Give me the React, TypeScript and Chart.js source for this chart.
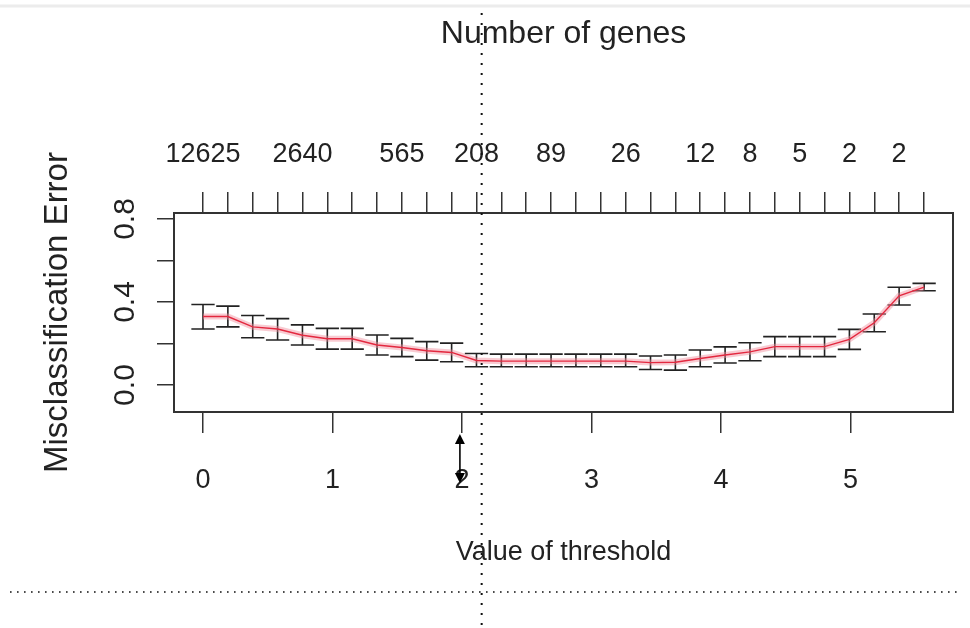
import React, { useEffect, useRef } from 'react';
import { Chart, registerables } from 'chart.js';

Chart.register(...registerables);

// Threshold values (x positions of the CV points)
const thresholds = [
  0.0, 0.192, 0.384, 0.576, 0.768, 0.96, 1.152, 1.344, 1.536, 1.728,
  1.92, 2.112, 2.304, 2.496, 2.688, 2.88, 3.072, 3.264, 3.456, 3.648,
  3.84, 4.032, 4.224, 4.416, 4.608, 4.8, 4.992, 5.184, 5.376, 5.569,
];

// Number of genes shown on the top axis ('' = label hidden)
const geneLabels = [
  '12625', '', '', '', '2640', '', '', '', '565', '', '', '208', '', '', '89',
  '', '', '26', '', '', '12', '', '8', '', '5', '', '2', '', '2', '',
];

// Misclassification error: mean, upper and lower
const meanErr = [
  0.33, 0.33, 0.28, 0.27, 0.24, 0.223, 0.223, 0.193, 0.181, 0.165,
  0.157, 0.118, 0.115, 0.115, 0.115, 0.115, 0.115, 0.115, 0.108, 0.11,
  0.128, 0.145, 0.16, 0.185, 0.185, 0.185, 0.22, 0.3, 0.43, 0.472,
];
const upperErr = [
  0.388, 0.38, 0.335, 0.32, 0.29, 0.273, 0.273, 0.241, 0.225, 0.209,
  0.202, 0.152, 0.149, 0.149, 0.149, 0.149, 0.149, 0.149, 0.14, 0.145,
  0.169, 0.184, 0.204, 0.233, 0.233, 0.233, 0.268, 0.342, 0.471, 0.49,
];
const lowerErr = [
  0.27, 0.28, 0.228, 0.217, 0.193, 0.173, 0.173, 0.145, 0.137, 0.12,
  0.112, 0.088, 0.088, 0.088, 0.088, 0.088, 0.088, 0.088, 0.075, 0.072,
  0.088, 0.106, 0.117, 0.137, 0.137, 0.137, 0.172, 0.257, 0.386, 0.454,
];

const xTicks = [0, 1, 2, 3, 4, 5];
const xTickLabels = ['0', '1', '2', '3', '4', '5'];
const yTicks = [0, 0.2, 0.4, 0.6, 0.8];
const yTickLabels = ['0.0', '', '0.4', '', '0.8'];

const arrowThreshold = 1.984;
const dottedThreshold = 2.152;

const SANS = '"Liberation Sans", Arial, sans-serif';
const INK = '#222';

const overlayPlugin = {
  id: 'overlay',
  beforeDatasetsDraw(chart: any) {
    const { ctx } = chart;
    const xs = chart.scales.x;
    const ys = chart.scales.y;
    const capHalf = 0.09;
    ctx.save();
    ctx.strokeStyle = INK;
    ctx.lineWidth = 1.6;
    for (let i = 0; i < thresholds.length; i++) {
      const x = xs.getPixelForValue(thresholds[i]);
      const xl = xs.getPixelForValue(thresholds[i] - capHalf);
      const xr = xs.getPixelForValue(thresholds[i] + capHalf);
      const yu = ys.getPixelForValue(upperErr[i]);
      const yl = ys.getPixelForValue(lowerErr[i]);
      ctx.beginPath();
      ctx.moveTo(x, yu);
      ctx.lineTo(x, yl);
      ctx.moveTo(xl, yu);
      ctx.lineTo(xr, yu);
      ctx.moveTo(xl, yl);
      ctx.lineTo(xr, yl);
      ctx.stroke();
    }
    ctx.restore();
  },
  afterDraw(chart: any) {
    const { ctx, chartArea: a, width, height } = chart;
    const xs = chart.scales.x;
    ctx.save();
    // plot box
    ctx.strokeStyle = '#333';
    ctx.lineWidth = 2;
    ctx.strokeRect(a.left, a.top, a.right - a.left, a.bottom - a.top);

    // faint line at very top
    ctx.strokeStyle = '#ececec';
    ctx.lineWidth = 3;
    ctx.beginPath();
    ctx.moveTo(0, 6);
    ctx.lineTo(width, 6);
    ctx.stroke();

    // double-headed arrow
    const ax = xs.getPixelForValue(arrowThreshold);
    const ay1 = a.bottom + 22;
    const ay2 = a.bottom + 71;
    ctx.strokeStyle = '#000';
    ctx.fillStyle = '#000';
    ctx.lineWidth = 1.6;
    ctx.beginPath();
    ctx.moveTo(ax, ay1 + 6);
    ctx.lineTo(ax, ay2 - 6);
    ctx.stroke();
    ctx.beginPath();
    ctx.moveTo(ax, ay1);
    ctx.lineTo(ax - 5, ay1 + 10);
    ctx.lineTo(ax + 5, ay1 + 10);
    ctx.closePath();
    ctx.fill();
    ctx.beginPath();
    ctx.moveTo(ax, ay2);
    ctx.lineTo(ax - 5, ay2 - 10);
    ctx.lineTo(ax + 5, ay2 - 10);
    ctx.closePath();
    ctx.fill();

    // dotted guide lines
    ctx.strokeStyle = '#111';
    ctx.lineWidth = 2;
    ctx.setLineDash([2, 8]);
    const dx = xs.getPixelForValue(dottedThreshold);
    ctx.beginPath();
    ctx.moveTo(dx, 13);
    ctx.lineTo(dx, height);
    ctx.stroke();
    ctx.lineWidth = 1.6;
    ctx.setLineDash([1.6, 5.4]);
    ctx.beginPath();
    ctx.moveTo(10, 592);
    ctx.lineTo(width - 8, 592);
    ctx.stroke();
    ctx.restore();
  },
};

export default function App() {
  const canvasRef = useRef<HTMLCanvasElement | null>(null);

  useEffect(() => {
    document.body.style.margin = '0';
    const canvas = canvasRef.current;
    if (!canvas) return;
    const pts = thresholds.map((t, i) => ({ x: t, y: meanErr[i] }));
    const chart = new Chart(canvas, {
      type: 'line',
      data: {
        datasets: [
          {
            data: pts,
            borderColor: '#e3283f',
            borderWidth: 1.4,
            pointRadius: 0,
            tension: 0,
            xAxisID: 'x',
            yAxisID: 'y',
          },
          {
            data: pts,
            borderColor: 'rgba(240,140,155,0.45)',
            borderWidth: 6,
            pointRadius: 0,
            tension: 0,
            xAxisID: 'x',
            yAxisID: 'y',
          },
        ],
      },
      options: {
        animation: false,
        responsive: false,
        devicePixelRatio: 1,
        layout: { padding: { left: 0, right: 17, top: 0, bottom: 0 } },
        plugins: {
          legend: { display: false },
          tooltip: { enabled: false },
        },
        scales: {
          x: {
            type: 'linear',
            position: 'bottom',
            min: -0.224,
            max: 5.792,
            afterBuildTicks: (s: any) => {
              s.ticks = xTicks.map((v) => ({ value: v }));
            },
            afterFit: (s: any) => {
              s.height = 216;
            },
            ticks: {
              autoSkip: false,
              maxRotation: 0,
              minRotation: 0,
              padding: 31,
              color: INK,
              font: { family: SANS, size: 27 },
              callback: (v: any) => {
                const i = xTicks.indexOf(Number(v));
                return i >= 0 ? xTickLabels[i] : '';
              },
            },
            grid: {
              drawOnChartArea: false,
              drawTicks: true,
              tickLength: 21,
              color: '#333',
              lineWidth: 1.5,
            },
            border: { display: false },
            title: {
              display: true,
              text: 'Value of threshold',
              color: INK,
              font: { family: SANS, size: 27 },
              padding: { top: 0, bottom: 59 },
            },
          },
          x2: {
            type: 'linear',
            axis: 'x',
            position: 'top',
            min: -0.224,
            max: 5.792,
            afterBuildTicks: (s: any) => {
              s.ticks = thresholds.map((v) => ({ value: v }));
            },
            afterFit: (s: any) => {
              s.height = 213;
            },
            ticks: {
              autoSkip: false,
              maxRotation: 0,
              minRotation: 0,
              padding: 21,
              color: INK,
              font: { family: SANS, size: 27 },
              callback: (v: any, i: number) => geneLabels[i] ?? '',
            },
            grid: {
              drawOnChartArea: false,
              drawTicks: true,
              tickLength: 21,
              color: '#333',
              lineWidth: 1.5,
            },
            border: { display: false },
            title: {
              display: true,
              text: 'Number of genes',
              color: INK,
              font: { family: SANS, size: 32 },
              padding: { top: 15, bottom: 0 },
            },
          },
          y: {
            type: 'linear',
            position: 'left',
            min: -0.13,
            max: 0.829,
            afterBuildTicks: (s: any) => {
              s.ticks = yTicks.map((v) => ({ value: v }));
            },
            afterFit: (s: any) => {
              s.width = 174;
            },
            ticks: {
              autoSkip: false,
              minRotation: 90,
              maxRotation: 90,
              crossAlign: 'center',
              padding: 10,
              color: INK,
              font: { family: SANS, size: 30 },
              callback: (v: any, i: number) => yTickLabels[i] ?? '',
            },
            grid: {
              drawOnChartArea: false,
              drawTicks: true,
              tickLength: 17,
              color: '#333',
              lineWidth: 1.5,
            },
            border: { display: false },
            title: {
              display: true,
              text: 'Misclassification Error',
              color: INK,
              font: { family: SANS, size: 33 },
              padding: { top: 38, bottom: 0 },
            },
          },
        },
      },
      plugins: [overlayPlugin],
    } as any);
    return () => chart.destroy();
  }, []);

  return <canvas ref={canvasRef} width={970} height={628} style={{ display: 'block' }} />;
}
